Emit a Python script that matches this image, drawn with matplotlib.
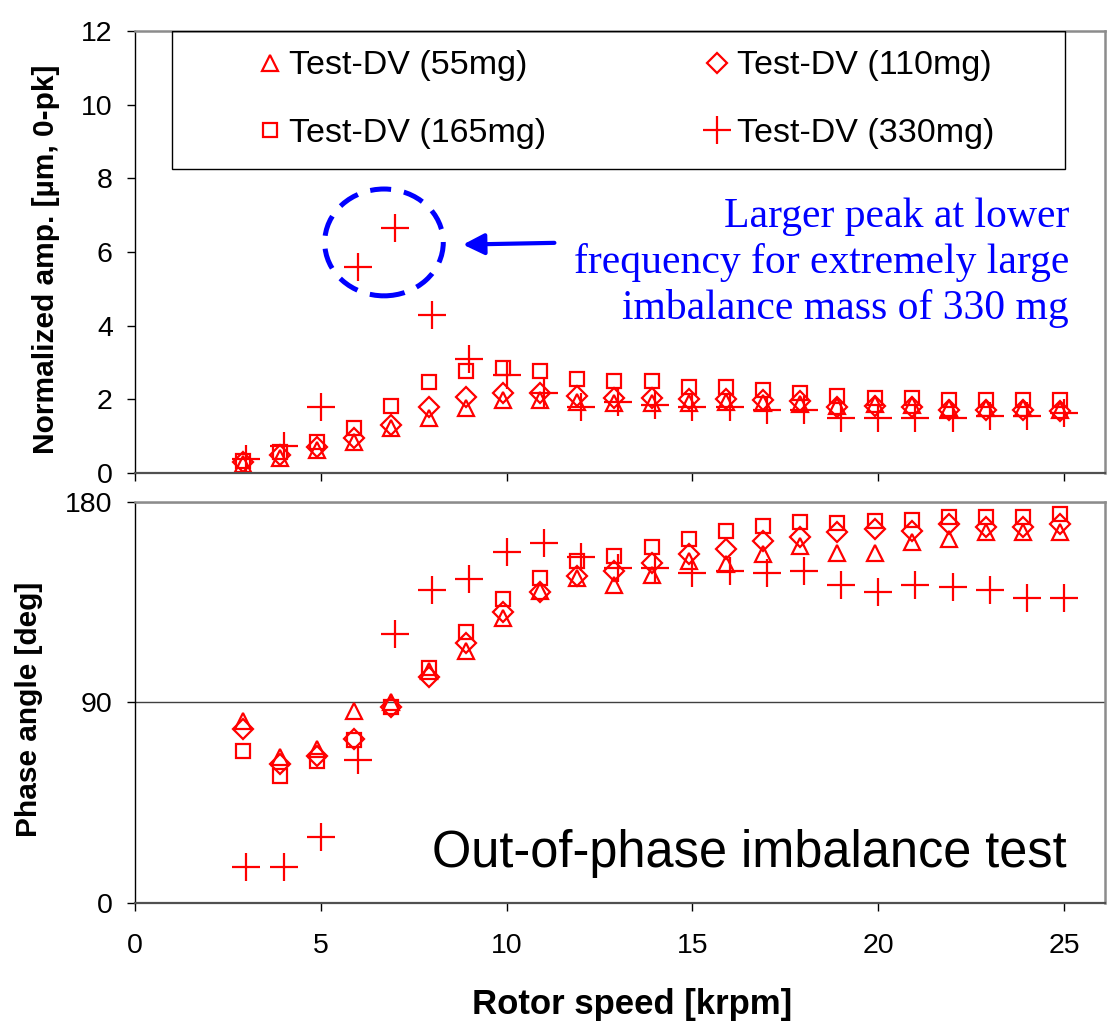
import matplotlib
matplotlib.use('Agg')
import matplotlib.pyplot as plt
from matplotlib.patches import Ellipse, Rectangle

# rotor speed [krpm]; the 330 mg run sits slightly right of the others
speed_dv = [2.9, 3.9, 4.9, 5.9, 6.9, 7.9, 8.9, 9.9, 10.9, 11.9, 12.9, 13.9,
            14.9, 15.9, 16.9, 17.9, 18.9, 19.9, 20.9, 21.9, 22.9, 23.9, 24.9]
speed_330 = [3, 4, 5, 6, 7, 8, 9, 10, 11, 12, 13, 14,
             15, 16, 17, 18, 19, 20, 21, 22, 23, 24, 25]

# normalized amplitude [um, 0-pk]
amp_55 = [0.25, 0.40, 0.62, 0.85, 1.22, 1.49, 1.77, 1.98, 1.99, 1.94, 1.89, 1.89,
          1.89, 1.94, 1.89, 1.87, 1.82, 1.87, 1.84, 1.76, 1.76, 1.76, 1.71]
amp_110 = [0.30, 0.50, 0.71, 0.95, 1.30, 1.78, 2.06, 2.17, 2.17, 2.09, 2.05, 2.03,
           2.00, 2.00, 1.98, 1.96, 1.80, 1.82, 1.80, 1.71, 1.71, 1.71, 1.69]
amp_165 = [0.33, 0.58, 0.84, 1.22, 1.82, 2.48, 2.78, 2.85, 2.78, 2.55, 2.50, 2.50,
           2.33, 2.33, 2.26, 2.18, 2.10, 2.03, 2.03, 1.97, 1.97, 1.97, 1.97]
amp_330 = [0.38, 0.74, 1.78, 5.60, 6.65, 4.28, 3.10, 2.66, 2.16, 1.79, 1.94, 1.85,
           1.78, 1.78, 1.71, 1.71, 1.50, 1.50, 1.50, 1.50, 1.56, 1.56, 1.62]

# phase angle [deg]
ph_55 = [81.7, 65.2, 69.0, 86.2, 89.9, 104.1, 113.1, 128.0, 140.0, 145.7, 142.5, 147.3,
         153.5, 152.0, 156.5, 160.2, 157.2, 157.2, 161.7, 163.2, 166.2, 166.2, 166.2]
ph_110 = [78.0, 62.2, 65.7, 73.7, 87.7, 101.1, 116.8, 130.3, 139.3, 146.8, 149.0, 152.7,
          156.5, 158.7, 162.5, 164.0, 166.2, 167.7, 166.9, 170.0, 168.5, 168.5, 170.0]
ph_165 = [68.2, 57.0, 63.4, 73.0, 87.7, 105.2, 121.3, 136.3, 145.7, 153.5, 155.7, 159.5,
          163.2, 167.0, 169.2, 170.7, 170.4, 171.5, 171.8, 173.2, 173.0, 173.0, 174.5]
ph_330 = [15.9, 15.9, 29.3, 64.0, 120.6, 140.3, 145.3, 157.5, 161.4, 155.3, 150.4, 150.2,
          147.8, 149.0, 147.8, 149.0, 142.7, 139.3, 142.7, 141.5, 140.3, 136.8, 136.8]

labels = ['Test-DV (55mg)', 'Test-DV (110mg)', 'Test-DV (165mg)', 'Test-DV (330mg)']

RED = '#ff0000'
BLUE = '#0000ff'
plt.rcParams['font.family'] = ['Liberation Sans', 'DejaVu Sans']

styles = [dict(marker='^', ms=12), dict(marker='D', ms=10),
          dict(marker='s', ms=10), dict(marker='+', ms=20)]

fig = plt.figure(figsize=(11.11, 10.36), dpi=100)
ax1 = fig.add_axes([0.1215, 0.5434, 0.8731, 0.4267])
ax2 = fig.add_axes([0.1215, 0.1287, 0.8731, 0.3870])


def style_axes(ax):
    for side in ['top', 'right']:
        ax.spines[side].set_color('#8c8c8c')
        ax.spines[side].set_linewidth(1.8)
    ax.spines['bottom'].set_color('#505050')
    ax.spines['bottom'].set_linewidth(1.6)
    ax.spines['left'].set_color('black')
    ax.spines['left'].set_linewidth(1.0)
    ax.tick_params(direction='out', length=6, width=1, labelsize=20.5,
                   colors='black')
    ax.tick_params(axis='y', pad=10)
    ax.tick_params(axis='x', pad=16)
    ax.set_xlim(0, 26.1)
    ax.set_xticks([0, 5, 10, 15, 20, 25])


def draw(ax, speeds, series):
    handles = []
    for (x, y), st in zip(zip(speeds, series), styles):
        h, = ax.plot(x, y, linestyle='none', color=RED, mfc='none', mec=RED,
                     mew=1.6, **st)
        handles.append(h)
    return handles


# --- amplitude
style_axes(ax1)
hs = draw(ax1, [speed_dv, speed_dv, speed_dv, speed_330],
          [amp_55, amp_110, amp_165, amp_330])
ax1.set_ylim(0, 12)
ax1.set_yticks(range(0, 13, 2))
ax1.tick_params(labelbottom=False)
ax1.set_ylabel('Normalized amp. [\u00b5m, 0-pk]', fontsize=21.5, fontweight='bold')
ax1.yaxis.set_label_coords(-0.0773, 0.484)

ax1.add_patch(Rectangle((0.0381, 0.6878), 0.9206, 0.3122, transform=ax1.transAxes,
                        fill=False, edgecolor='black', lw=1.0, zorder=3))
ax1.legend([hs[0], hs[2], hs[1], hs[3]], [labels[0], labels[2], labels[1], labels[3]],
           ncol=2, frameon=False, loc='upper left', bbox_to_anchor=(0.1252, 0.956),
           fontsize=24.5, markerscale=1.0, handlelength=0.8, handletextpad=0.17,
           columnspacing=4.62, labelspacing=1.08, borderpad=0, borderaxespad=0)

ax1.add_patch(Ellipse((6.7, 6.26), 3.19, 2.9, fill=False, edgecolor=BLUE, lw=3.6,
                      linestyle=(0, (4.2, 2.6)), zorder=4))
ax1.annotate('', xy=(8.75, 6.2), xytext=(11.36, 6.25),
             arrowprops=dict(arrowstyle='-|>', color=BLUE, lw=3, mutation_scale=32))
ax1.text(25.13, 5.70, 'Larger peak at lower\nfrequency for extremely large\n'
         'imbalance mass of 330 mg', color=BLUE, fontsize=30,
         family=['Liberation Serif', 'DejaVu Serif'], ha='right', va='center',
         multialignment='right', linespacing=1.23)

# --- phase
style_axes(ax2)
draw(ax2, [speed_dv, speed_dv, speed_dv, speed_330], [ph_55, ph_110, ph_165, ph_330])
ax2.set_ylim(0, 180)
ax2.set_yticks([0, 90, 180])
ax2.yaxis.grid(True, color='#404040', lw=1.0)
ax2.set_axisbelow(True)
ax2.set_ylabel('Phase angle [deg]', fontsize=21.5, fontweight='bold')
ax2.yaxis.set_label_coords(-0.0948, 0.483)
ax2.set_xlabel('Rotor speed [krpm]', fontsize=25, fontweight='bold')
ax2.xaxis.set_label_coords(0.513, -0.213)
ax2.text(25.08, 16.2, 'Out-of-phase imbalance test', fontsize=36.4,
         ha='right', va='baseline')

fig.savefig('out.png', dpi=100)
